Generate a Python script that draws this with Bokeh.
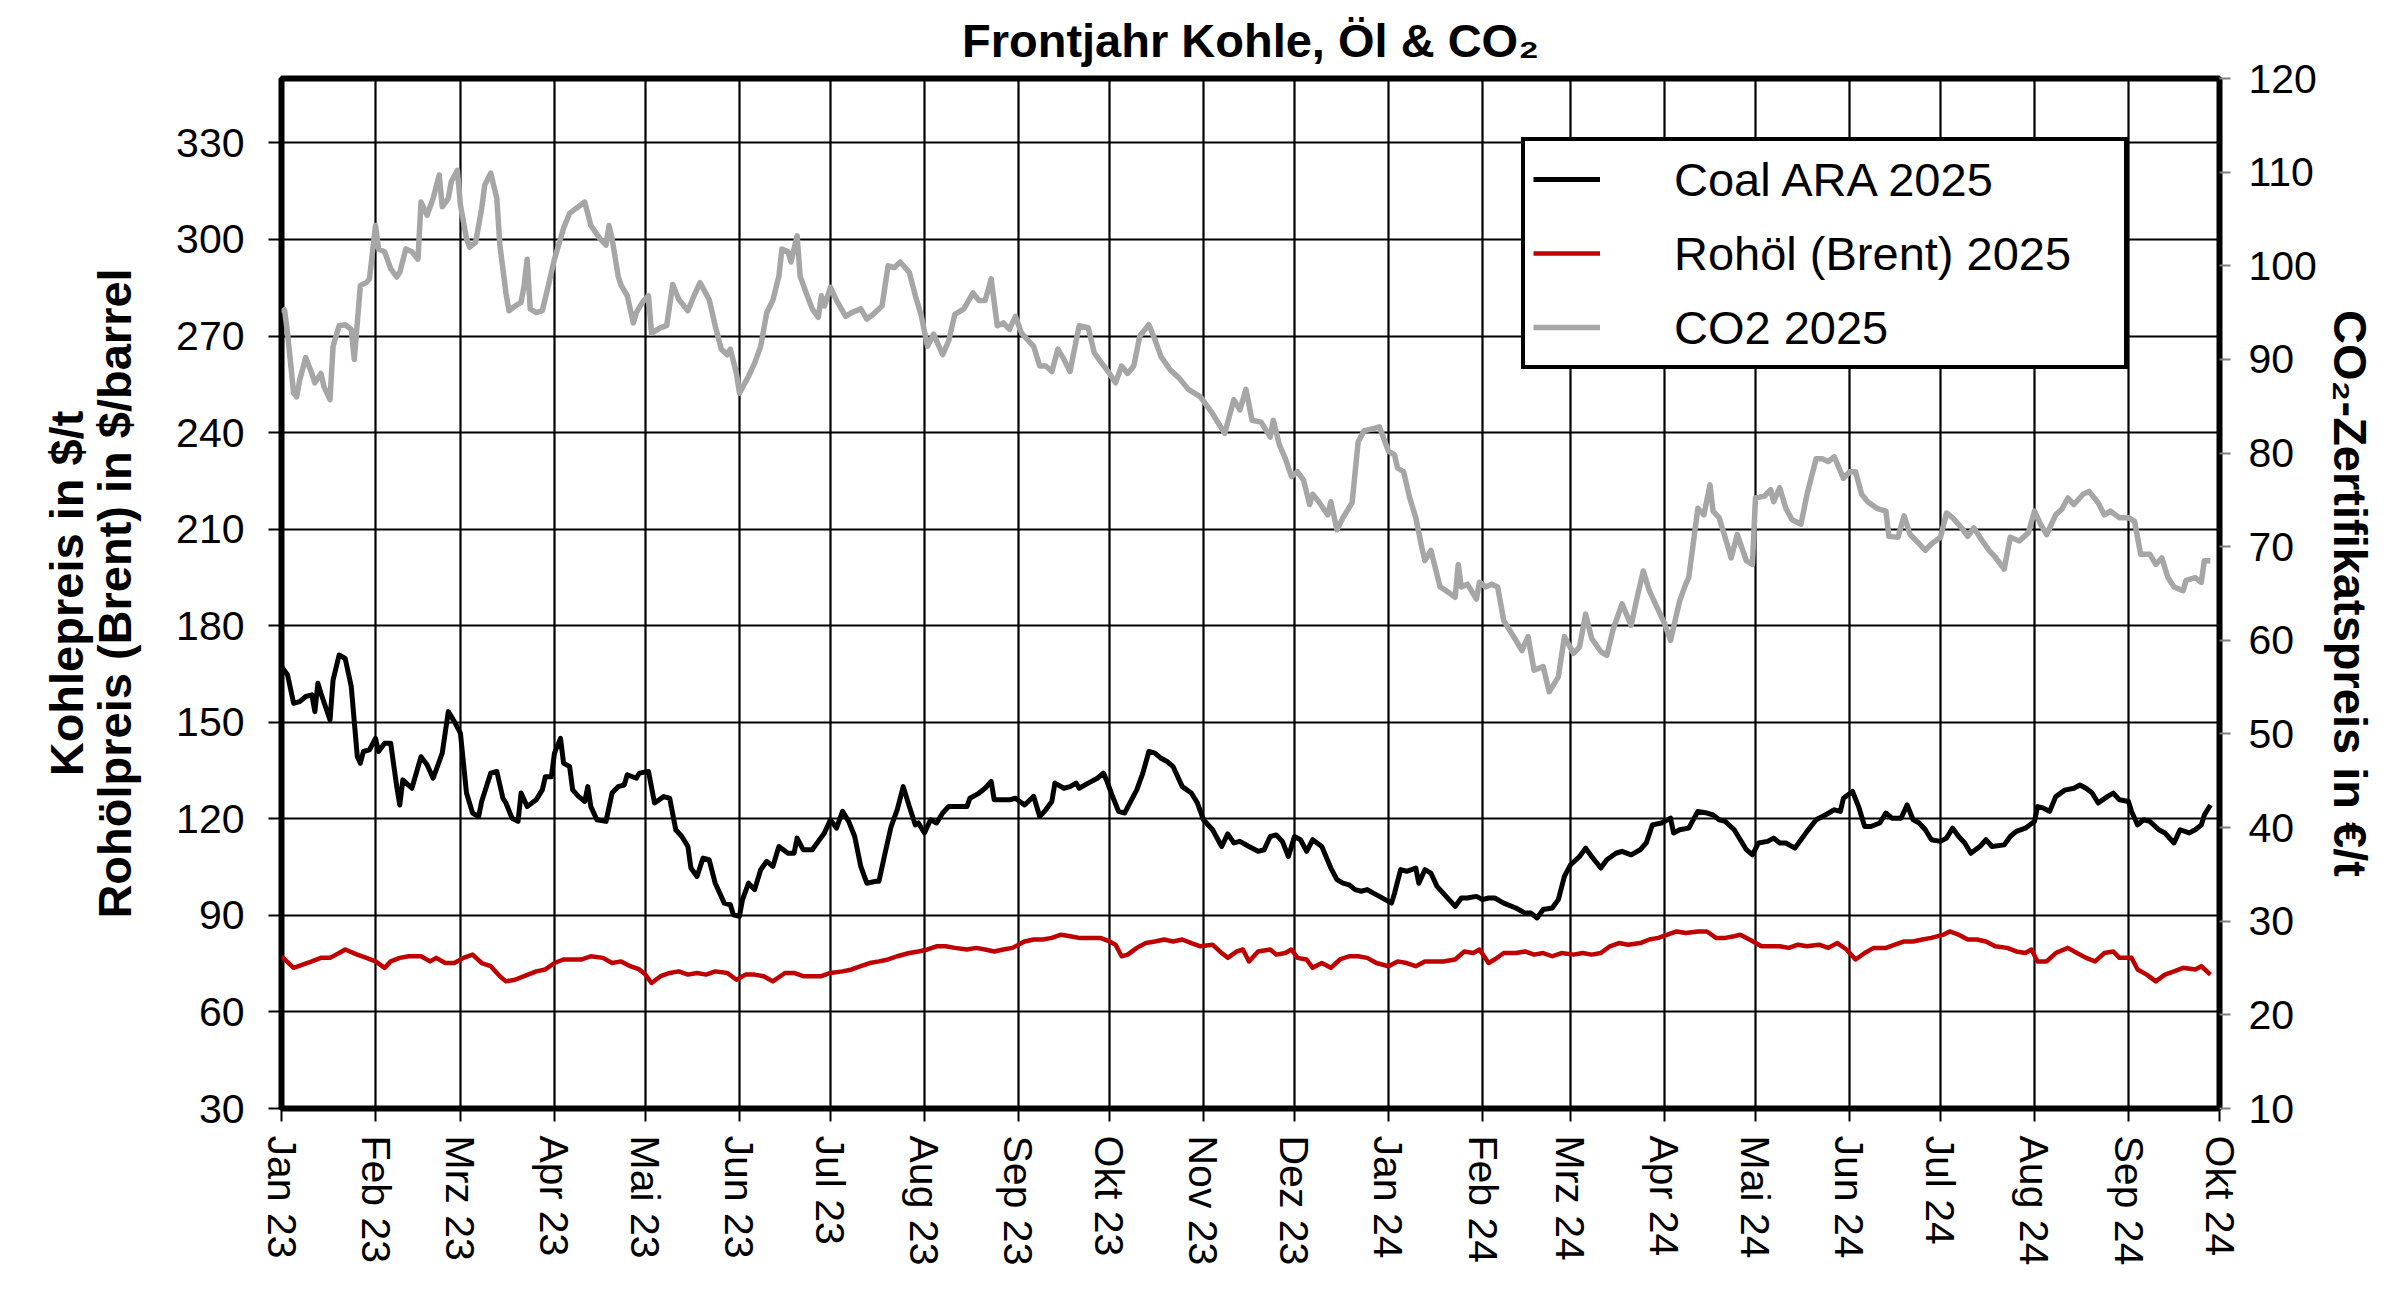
import pandas as pd
from bokeh.plotting import figure
from bokeh.models import Range1d, LinearAxis, FixedTicker, Legend, LegendItem
from bokeh.embed import file_html
from bokeh.resources import INLINE

# ---------------- data ----------------
start_date = "2023-01-01"
title_text = "Frontjahr Kohle, Öl & CO₂"

x_tick_labels = ["Jan 23", "Feb 23", "Mrz 23", "Apr 23", "Mai 23", "Jun 23", "Jul 23",
                 "Aug 23", "Sep 23", "Okt 23", "Nov 23", "Dez 23", "Jan 24", "Feb 24",
                 "Mrz 24", "Apr 24", "Mai 24", "Jun 24", "Jul 24", "Aug 24", "Sep 24", "Okt 24"]
left_ticks = [30, 60, 90, 120, 150, 180, 210, 240, 270, 300, 330]
right_ticks = [10, 20, 30, 40, 50, 60, 70, 80, 90, 100, 110, 120]

# Coal ARA 2025 ($/t), day offset from 2023-01-01
coal_days = [0, 2, 4, 6, 8, 10, 11, 12, 13, 16, 17, 19, 21, 23, 25, 26, 27, 29, 31, 32, 34, 36, 38, 39, 40,
             43, 46, 48, 50, 53, 55, 57, 59, 61, 63, 65, 66, 69, 71, 73, 74, 76, 78, 79, 81, 84, 86, 87,
             89, 90, 92, 93, 95, 96, 98, 100, 101, 102, 104, 107, 109, 111, 113, 114, 117, 118, 121, 123,
             126, 128, 130, 132, 134, 135, 137, 139, 141, 143, 146, 148, 149, 151, 152, 154, 156, 158, 160,
             162, 164, 167, 169, 170, 172, 175, 177, 179, 181, 183, 185, 187, 189, 191, 193, 196, 197, 199,
             201, 203, 205, 207, 209, 210, 212, 214, 216, 218, 220, 223, 226, 227, 230, 232, 234, 235, 237,
             240, 242, 245, 248, 250, 252, 254, 255, 258, 260, 262, 263, 266, 269, 271, 272, 274, 276, 278,
             280, 282, 284, 286, 288, 290, 292, 294, 297, 300, 302, 304, 307, 310, 312, 314, 316, 319, 322,
             324, 326, 328, 330, 332, 334, 336, 338, 340, 343, 346, 348, 350, 352, 354, 356, 358, 360, 362,
             366, 367, 369, 371, 374, 375, 377, 379, 381, 384, 387, 389, 391, 394, 396, 398, 400, 403, 407,
             410, 412, 414, 416, 419, 421, 423, 425, 428, 430, 432, 435, 437, 440, 442, 445, 448, 450, 452,
             455, 458, 459, 461, 464, 467, 470, 472, 474, 476, 479, 481, 483, 485, 487, 490, 492, 494, 496,
             499, 501, 503, 506, 509, 512, 514, 515, 518, 520, 522, 524, 527, 529, 531, 534, 536, 538, 540,
             542, 544, 547, 549, 551, 553, 555, 557, 560, 562, 564, 568, 570, 572, 575, 578, 579, 581, 583,
             585, 588, 591, 593, 595, 597, 599, 602, 604, 606, 609, 610, 612, 614, 616, 619, 621, 624, 626,
             629, 631, 633, 634, 636]
coal_values = [167.3, 164.7, 155.9, 156.4, 158.0, 158.5, 153.3, 162.1, 159.0, 150.7, 163.1, 170.9, 169.8,
               161.1, 139.3, 137.3, 140.9, 141.4, 145.0, 140.9, 143.5, 143.5, 130.0, 124.3, 132.1, 129.5,
               139.3, 136.8, 132.6, 140.4, 153.3, 150.2, 146.6, 128.0, 121.8, 120.7, 125.4, 134.2, 134.7,
               126.4, 124.9, 120.2, 119.2, 128.0, 123.8, 125.9, 129.0, 133.1, 133.1, 140.4, 145.0, 137.3,
               136.2, 129.0, 126.9, 125.4, 130.0, 123.8, 119.7, 119.2, 128.0, 130.0, 130.5, 133.7, 132.6,
               134.2, 134.7, 124.9, 126.9, 126.4, 116.6, 114.5, 111.4, 104.7, 102.1, 107.8, 107.3, 100.0,
               93.8, 93.3, 90.2, 89.7, 94.9, 100.0, 98.0, 104.2, 106.8, 105.2, 111.4, 109.3, 109.3, 114.0,
               110.4, 110.4, 113.0, 115.6, 119.7, 117.1, 122.3, 119.2, 114.5, 105.2, 100.0, 100.6, 100.6,
               109.3, 117.6, 122.8, 130.0, 123.8, 118.1, 118.7, 115.6, 119.7, 118.7, 121.8, 123.8, 123.8,
               123.8, 126.4, 128.0, 129.5, 131.6, 125.9, 125.9, 125.9, 126.4, 124.3, 127.0, 120.7, 122.8,
               125.4, 131.1, 129.5, 130.0, 131.1, 129.5, 131.1, 132.6, 134.2, 132.1, 127.0, 122.3, 121.8,
               125.4, 129.0, 134.2, 140.9, 140.4, 138.8, 137.8, 136.2, 130.0, 128.0, 124.9, 119.7, 116.6,
               111.4, 115.3, 112.5, 113.0, 111.4, 109.9, 110.4, 114.5, 115.0, 113.0, 108.3, 114.5, 113.5,
               109.9, 113.5, 111.4, 104.7, 101.1, 100.0, 99.5, 98.0, 97.5, 98.0, 96.9, 95.9, 93.8, 96.9,
               104.2, 103.7, 104.7, 100.0, 104.2, 103.1, 99.0, 95.9, 92.8, 95.4, 95.4, 95.9, 94.9, 95.4,
               95.4, 93.8, 92.3, 90.7, 90.7, 89.2, 91.8, 92.3, 94.9, 102.1, 105.7, 108.3, 110.9, 108.3,
               104.7, 107.3, 109.3, 109.9, 108.8, 110.4, 112.5, 118.1, 118.7, 120.2, 115.6, 116.6, 117.1,
               122.3, 121.8, 121.2, 119.7, 119.2, 116.6, 113.5, 110.4, 108.8, 112.5, 113.0, 114.0, 112.5,
               112.5, 110.9, 113.5, 116.1, 119.7, 121.2, 122.8, 122.3, 126.4, 128.5, 123.8, 117.6, 117.6,
               118.7, 121.8, 120.2, 120.2, 124.3, 119.7, 118.7, 116.6, 113.5, 113.0, 114.0, 117.1, 114.5,
               112.5, 109.3, 111.4, 113.5, 111.4, 111.9, 114.5, 116.1, 117.1, 119.2, 123.8, 123.3, 122.3,
               126.9, 128.9, 129.5, 130.5, 129.5, 128.0, 124.9, 126.9, 128.0, 125.9, 125.4, 122.3, 118.1,
               119.7, 119.2, 116.6, 115.6, 112.5, 116.6, 115.6, 116.6, 118.1, 121.2, 124.3]

# Rohöl (Brent) 2025 ($/barrel)
oil_days = [0, 4, 7, 10, 13, 16, 19, 21, 25, 28, 31, 34, 36, 39, 42, 46, 49, 51, 54, 57, 60, 63, 66, 69,
            72, 74, 77, 80, 84, 87, 90, 93, 96, 99, 102, 106, 109, 112, 115, 118, 120, 122, 125, 128, 131,
            134, 137, 140, 143, 147, 150, 153, 156, 159, 162, 166, 169, 172, 175, 178, 181, 185, 188, 191,
            194, 197, 200, 203, 207, 210, 213, 216, 219, 222, 226, 229, 232, 235, 238, 241, 245, 248, 251,
            254, 257, 260, 263, 267, 270, 273, 275, 277, 279, 282, 285, 288, 291, 294, 297, 300, 303, 307,
            310, 312, 315, 317, 319, 322, 326, 328, 331, 333, 335, 338, 340, 343, 346, 349, 352, 355, 358,
            361, 365, 368, 371, 374, 377, 380, 383, 387, 390, 393, 395, 398, 400, 403, 407, 410, 413, 416,
            419, 422, 426, 429, 432, 435, 438, 441, 444, 448, 451, 454, 457, 460, 463, 467, 470, 473, 476,
            479, 481, 484, 488, 491, 494, 497, 500, 503, 507, 510, 513, 516, 519, 522, 525, 529, 532, 535,
            538, 541, 544, 548, 550, 553, 556, 559, 562, 565, 569, 572, 575, 577, 579, 582, 585, 589, 592,
            595, 598, 601, 604, 606, 610, 612, 615, 618, 621, 624, 627, 631, 633, 636]
oil_values = [77.3, 73.7, 74.7, 75.7, 76.8, 76.8, 78.3, 79.4, 77.8, 76.8, 75.7, 73.7, 75.7, 76.8, 77.3,
              77.3, 75.7, 76.8, 75.2, 75.2, 76.8, 77.8, 75.2, 74.2, 71.1, 69.5, 70.0, 71.1, 72.6, 73.2,
              75.2, 76.3, 76.3, 76.3, 77.3, 76.8, 75.2, 75.7, 74.2, 73.2, 71.6, 69.0, 71.1, 72.1, 72.6,
              71.6, 72.1, 71.6, 72.6, 72.1, 70.0, 71.6, 71.6, 71.1, 69.5, 72.1, 72.1, 71.1, 71.1, 71.1,
              72.1, 72.6, 73.2, 74.2, 75.2, 75.7, 76.3, 77.3, 78.3, 78.8, 79.4, 80.4, 80.4, 79.9, 79.4,
              79.9, 79.4, 78.8, 79.4, 79.9, 81.9, 82.5, 82.5, 83.0, 84.0, 83.5, 83.0, 83.0, 83.0, 81.9,
              80.9, 77.3, 77.8, 79.9, 81.4, 81.9, 82.5, 81.9, 82.5, 81.4, 80.4, 80.9, 78.3, 76.8, 78.8,
              79.4, 75.7, 78.8, 79.4, 77.8, 78.3, 79.4, 76.8, 76.3, 73.7, 75.2, 73.7, 76.3, 77.3, 77.3,
              76.8, 75.2, 74.2, 75.7, 75.2, 74.2, 75.7, 75.7, 75.7, 76.3, 78.8, 78.3, 79.4, 75.2, 76.3,
              78.3, 78.3, 78.8, 77.8, 78.3, 77.3, 78.3, 77.8, 78.3, 77.8, 78.3, 80.4, 81.4, 80.9, 81.4,
              82.5, 83.0, 84.0, 85.0, 84.5, 85.0, 85.0, 83.0, 83.0, 83.5, 84.0, 82.5, 80.4, 80.4, 80.4,
              79.9, 80.9, 80.4, 80.9, 79.9, 81.4, 79.4, 76.3, 78.3, 79.9, 79.9, 80.9, 81.9, 81.9, 82.5,
              83.0, 84.0, 85.0, 84.0, 82.5, 82.5, 81.9, 80.4, 79.9, 78.8, 78.3, 79.4, 75.7, 75.7, 78.3,
              79.9, 78.3, 76.8, 75.7, 78.3, 78.8, 76.8, 76.8, 73.2, 71.6, 69.5, 71.6, 72.6, 73.7, 73.2,
              74.2, 71.6]

# CO2 2025 (EUR/t)
co2_days = [0, 1, 2, 4, 5, 6, 8, 10, 11, 13, 14, 16, 17, 19, 21, 23, 24, 26, 28, 29, 31, 32, 34, 36, 38,
            39, 41, 43, 45, 46, 48, 50, 52, 53, 55, 56, 58, 59, 61, 62, 64, 66, 67, 69, 71, 72, 74, 75, 77,
            79, 80, 81, 82, 84, 86, 88, 90, 93, 95, 97, 100, 102, 105, 107, 108, 109, 111, 112, 114, 116,
            117, 119, 121, 122, 125, 127, 129, 131, 134, 136, 138, 141, 143, 145, 147, 148, 150, 151, 154,
            156, 158, 160, 162, 164, 165, 167, 168, 170, 171, 173, 175, 177, 178, 179, 181, 183, 186, 188,
            191, 193, 195, 198, 200, 202, 204, 207, 209, 211, 213, 215, 218, 220, 222, 225, 228, 230, 232,
            234, 236, 238, 240, 242, 244, 248, 250, 252, 254, 256, 258, 260, 263, 266, 268, 270, 273, 275,
            277, 279, 281, 283, 286, 288, 290, 293, 296, 299, 303, 307, 311, 314, 316, 318, 320, 323, 326,
            327, 329, 331, 333, 335, 337, 339, 340, 342, 345, 346, 348, 350, 353, 355, 357, 360, 362, 365,
            367, 368, 370, 372, 374, 376, 377, 379, 382, 384, 387, 388, 389, 391, 394, 395, 397, 399, 401,
            403, 407, 409, 411, 413, 416, 418, 421, 423, 426, 428, 430, 432, 435, 437, 439, 442, 445, 447,
            449, 451, 453, 456, 458, 461, 463, 464, 467, 469, 471, 472, 474, 476, 478, 480, 483, 485, 486,
            489, 491, 492, 494, 496, 498, 501, 503, 506, 508, 510, 512, 515, 517, 519, 521, 523, 526, 529,
            530, 533, 535, 537, 540, 542, 544, 547, 549, 551, 554, 556, 558, 560, 563, 565, 568, 570, 573,
            576, 578, 580, 582, 585, 587, 589, 591, 594, 596, 599, 601, 603, 606, 609, 611, 613, 616, 618,
            620, 622, 624, 627, 628, 631, 633, 634, 636]
co2_values = [95.0, 95.3, 92.8, 86.4, 86.0, 87.8, 90.2, 88.5, 87.5, 88.5, 87.1, 85.7, 91.4, 93.6, 93.7,
              93.2, 90.0, 97.9, 98.2, 98.6, 104.3, 101.8, 101.5, 99.7, 98.8, 99.3, 101.8, 101.5, 100.7,
              106.8, 105.4, 107.2, 109.7, 106.3, 107.2, 109.0, 110.2, 106.5, 102.9, 102.0, 102.5, 106.1,
              108.6, 109.9, 107.2, 102.2, 97.1, 95.2, 95.7, 96.1, 97.9, 100.7, 95.4, 95.0, 95.2, 97.9,
              100.7, 104.0, 105.6, 106.1, 106.8, 104.3, 102.9, 102.2, 104.3, 102.9, 98.9, 97.9, 96.8,
              93.9, 95.0, 96.1, 96.8, 92.8, 93.4, 93.6, 98.0, 96.4, 95.2, 96.8, 98.2, 96.4, 93.6, 91.1,
              90.5, 91.1, 88.5, 86.4, 88.2, 89.6, 91.4, 95.0, 96.3, 98.9, 101.8, 101.5, 100.4, 103.2,
              98.9, 97.1, 95.4, 94.5, 96.8, 95.7, 97.7, 96.3, 94.6, 95.0, 95.4, 94.3, 94.8, 95.7, 100.0,
              99.8, 100.4, 99.3, 96.8, 94.6, 91.4, 92.7, 90.5, 92.0, 94.8, 95.4, 97.1, 96.3, 96.3, 98.6,
              93.6, 93.9, 93.2, 94.6, 92.8, 91.4, 89.3, 89.3, 88.7, 91.1, 90.0, 88.7, 93.6, 93.4, 90.7,
              89.8, 88.5, 87.5, 89.3, 88.5, 89.3, 92.5, 93.7, 92.1, 90.3, 88.9, 88.0, 86.8, 86.0, 84.2,
              82.1, 85.7, 84.6, 86.8, 83.5, 83.3, 81.7, 83.5, 80.9, 79.4, 77.5, 78.0, 77.1, 74.5, 75.6,
              74.8, 73.4, 74.8, 71.8, 73.1, 74.7, 81.2, 82.4, 82.6, 82.8, 80.2, 79.8, 78.4, 78.0, 75.2,
              73.1, 69.9, 68.5, 69.6, 65.7, 65.3, 64.6, 68.1, 65.7, 66.0, 64.4, 66.2, 65.7, 66.0, 65.7,
              62.1, 60.0, 58.9, 60.4, 56.8, 57.2, 54.5, 56.1, 60.4, 58.6, 59.3, 62.8, 60.2, 58.8, 58.4,
              61.1, 63.9, 61.6, 64.6, 67.4, 65.3, 63.9, 61.8, 60.0, 64.2, 66.0, 66.7, 74.1, 73.4, 76.6,
              73.8, 73.1, 71.0, 68.8, 71.3, 68.5, 68.1, 75.2, 75.4, 76.1, 74.8, 76.3, 74.1, 72.9, 72.4,
              75.6, 79.4, 79.4, 79.1, 79.6, 77.3, 78.0, 78.0, 75.6, 74.8, 74.1, 73.8, 71.1, 71.0, 73.3,
              71.3, 70.3, 69.6, 70.3, 71.0, 73.6, 73.1, 72.0, 71.1, 72.0, 71.0, 69.6, 68.9, 67.6, 71.0,
              70.6, 71.5, 73.8, 72.4, 71.3, 73.4, 74.0, 75.2, 74.5, 75.6, 75.9, 74.7, 73.4, 73.8, 73.1,
              73.1, 72.7, 69.2, 69.2, 68.1, 68.8, 66.7, 65.7, 65.3, 66.4, 66.7, 66.2, 68.5, 68.5]

# ---------------- build ----------------
FONT = "Liberation Sans"
t0 = pd.Timestamp(start_date)


def to_dates(days):
    return [t0 + pd.Timedelta(days=d) for d in days]


month_starts = pd.date_range(start_date, periods=len(x_tick_labels), freq="MS")
tick_ms = [int(ts.value // 10**6) for ts in month_starts]

p = figure(width=2384, height=1276, output_backend="svg", toolbar_location=None,
           x_axis_type="datetime",
           x_range=Range1d(month_starts[0], month_starts[-1]),
           y_range=Range1d(30, 350),
           min_border_left=281, min_border_right=165, min_border_top=78, min_border_bottom=168,
           background_fill_color="white", border_fill_color="white")
p.extra_y_ranges = {"co2": Range1d(10, 120)}

# title
p.title.text = title_text
p.title.align = "center"
p.title.vertical_align = "top"
p.title.text_font = FONT
p.title.text_font_size = "47px"
p.title.text_font_style = "bold"
p.title.text_color = "black"
p.title.standoff = 20

# outline
p.outline_line_color = "black"
p.outline_line_width = 6

# grids
for g in (p.xgrid, p.ygrid):
    g.grid_line_color = "black"
    g.grid_line_width = 2.2
    g.grid_line_alpha = 1.0

# x axis
xa = p.xaxis[0]
xa.ticker = FixedTicker(ticks=tick_ms)
xa.major_label_overrides = {ms: lbl for ms, lbl in zip(tick_ms, x_tick_labels)}
xa.major_label_orientation = "vertical"

# left axis
ya = p.yaxis[0]
ya.ticker = FixedTicker(ticks=left_ticks)
ya.axis_label = "Kohlepreis in $/t\nRohölpreis (Brent) in $/barrel"

# right axis
ra = LinearAxis(y_range_name="co2", ticker=FixedTicker(ticks=right_ticks),
                axis_label="CO₂-Zertifikatspreis in €/t")
p.add_layout(ra, "right")

for ax in (xa, ya, ra):
    ax.axis_line_color = None
    ax.major_tick_line_color = "black"
    ax.major_tick_line_width = 2
    ax.major_tick_in = 0
    ax.major_tick_out = 13
    ax.minor_tick_line_color = None
    ax.major_label_text_font = FONT
    ax.major_label_text_font_size = "41px"
    ax.major_label_text_color = "black"
    ax.axis_label_text_font = FONT
    ax.axis_label_text_font_size = "47px"
    ax.axis_label_text_font_style = "bold"
    ax.axis_label_text_color = "black"
    ax.axis_label_text_line_height = 0.9

ra.major_tick_line_color = "#7F7F7F"
ra.major_tick_out = 11
xa.major_label_standoff = 14
ya.major_label_standoff = 24
ya.axis_label_standoff = 32
ra.major_label_standoff = 18
ra.axis_label_standoff = 4

# lines
r_co2 = p.line(to_dates(co2_days), co2_values, y_range_name="co2",
               line_color="#A6A6A6", line_width=5.5, line_join="round")
r_oil = p.line(to_dates(oil_days), oil_values, line_color="#C00000", line_width=4.5,
               line_join="round")
r_coal = p.line(to_dates(coal_days), coal_values, line_color="black", line_width=5,
                line_join="round")

legend = Legend(items=[LegendItem(label="Coal ARA 2025", renderers=[r_coal]),
                       LegendItem(label="Rohöl (Brent) 2025", renderers=[r_oil]),
                       LegendItem(label="CO2 2025", renderers=[r_co2])],
                location=(1240, 739))
legend.label_text_font = FONT
legend.label_text_font_size = "47px"
legend.label_text_color = "black"
legend.border_line_color = "black"
legend.border_line_width = 4
legend.border_line_alpha = 1.0
legend.background_fill_color = "white"
legend.background_fill_alpha = 1.0
legend.padding = 8
legend.margin = 0
legend.spacing = 14
legend.glyph_width = 67
legend.glyph_height = 60
legend.label_height = 60
legend.label_width = 442
legend.label_standoff = 74
p.add_layout(legend)

open("out.html", "w").write(file_html(p, INLINE))
